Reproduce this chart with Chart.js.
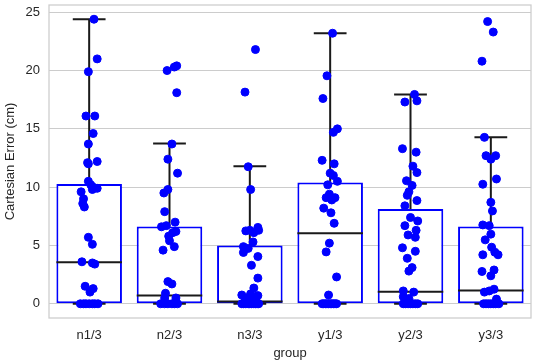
<!DOCTYPE html>
<html>
<head>
<meta charset="utf-8">
<script src="https://cdn.jsdelivr.net/npm/chart.js@4"></script>
<style>
  body { margin: 0; background: #fff; }
  canvas { display: block; }
</style>
</head>
<body>
<canvas id="boxChart" width="536" height="364"></canvas>
<script>
const categories = ["n1/3", "n2/3", "n3/3", "y1/3", "y2/3", "y3/3"];
const yTicks = [0, 5, 10, 15, 20, 25];

// box statistics (lower quartile and lower whisker are 0 everywhere)
const boxQ1 = [0, 0, 0, 0, 0, 0];
const boxQ3 = [10.27, 6.62, 5.0, 10.39, 8.13, 6.62];
const boxMedian = [3.57, 0.71, 0.2, 6.05, 1.03, 1.14];
const whiskerLow = [0, 0, 0, 0, 0, 0];
const whiskerHigh = [24.4, 13.75, 11.8, 23.2, 17.95, 14.27];

// individual observations per group, with the strip jitter (in category widths)
const n13Values = [24.4, 21.0, 19.9, 16.1, 16.1, 14.6, 13.7, 12.1, 12.2, 12.0, 10.5, 10.0, 9.9, 9.8, 9.9, 10.2, 9.6, 9.0, 8.6, 8.3, 5.7, 5.1, 3.6, 3.5, 3.4, 1.5, 1.3, 1.0, 0, 0, 0, 0, 0, 0, 0];
const n13Jitter = [0.06, 0.10, -0.01, -0.04, 0.07, 0.05, -0.01, -0.02, 0.10, -0.01, -0.01, 0.05, 0.05, 0.04, 0.10, 0.02, -0.10, -0.07, -0.08, -0.06, -0.01, 0.04, -0.09, 0.04, 0.07, -0.05, 0.05, 0.01, -0.11, -0.07, -0.04, 0, 0.04, 0.07, 0.11];

const n23Values = [20.0, 20.3, 20.4, 18.1, 13.7, 12.4, 11.2, 9.8, 9.5, 7.9, 7.0, 6.6, 6.7, 6.2, 6.1, 5.8, 5.4, 4.9, 4.6, 1.9, 1.7, 0.9, 0.5, 0.5, 0, 0, 0, 0, 0, 0];
const n23Jitter = [-0.03, 0.06, 0.09, 0.09, 0.03, -0.02, 0.10, -0.02, -0.07, -0.06, 0.07, -0.10, -0.04, 0.08, 0.04, -0.01, 0, 0.06, -0.08, -0.02, 0.03, -0.05, -0.06, 0.08, -0.11, -0.06, -0.02, 0.03, 0.06, 0.10];

const n33Values = [21.8, 18.15, 11.75, 9.8, 6.25, 6.3, 6.1, 6.55, 6.3, 5.3, 4.9, 4.4, 4.75, 4.05, 3.3, 2.2, 1.35, 0.75, 0.85, 0.7, 0.5, 0.3, 0.2, 0.1, 0, 0, 0, 0, 0, 0, 0, 0, 0, 0];
const n33Jitter = [0.07, -0.06, -0.02, 0.01, -0.05, 0, 0.05, 0.10, 0.11, 0.04, -0.08, -0.08, -0.02, 0.10, 0.02, 0.10, 0.05, -0.10, 0.01, 0.10, -0.04, 0.03, 0.08, -0.07, -0.10, -0.08, -0.05, -0.02, 0, 0.02, 0.05, 0.07, 0.09, 0.11];

const y13Values = [23.2, 19.55, 17.6, 15.0, 14.7, 12.3, 12.0, 11.2, 11.0, 10.5, 10.2, 9.4, 9.1, 9.1, 8.9, 8.2, 7.8, 6.9, 5.2, 4.45, 2.3, 0.75, 0, 0, 0, 0, 0, 0, 0, 0, 0, 0];
const y13Jitter = [0.03, -0.04, -0.09, 0.09, 0.04, -0.10, 0.05, 0, 0.04, 0.09, -0.03, -0.01, -0.05, 0.06, 0.02, -0.08, 0.01, 0.05, -0.01, -0.05, 0.08, -0.02, -0.10, -0.08, -0.06, -0.04, -0.02, 0, 0.02, 0.04, 0.06, 0.08];

const y23Values = [17.95, 17.3, 17.4, 13.3, 13.0, 11.8, 11.25, 10.55, 10.15, 9.6, 9.3, 8.4, 8.85, 7.4, 7.1, 6.7, 6.3, 5.9, 5.7, 4.8, 4.5, 3.9, 3.1, 2.8, 1.1, 1.0, 0.6, 0.45, 0, 0, 0, 0, 0, 0, 0];
const y23Jitter = [0.05, -0.07, 0.08, -0.10, 0.07, 0.03, 0.08, -0.05, 0.02, -0.02, -0.04, -0.07, 0.08, 0, 0.09, -0.07, 0.07, -0.03, 0.06, -0.10, 0.06, -0.04, 0.02, -0.02, -0.09, 0.04, -0.09, -0.02, -0.09, -0.06, -0.03, 0, 0.03, 0.06, 0.09];

const y33Values = [24.2, 23.3, 20.8, 14.27, 12.7, 12.4, 12.7, 10.7, 10.25, 8.7, 7.96, 6.76, 6.7, 5.97, 5.48, 4.85, 4.42, 4.2, 4.2, 2.9, 2.77, 2.4, 1.25, 1.1, 1.0, 0.4, 0, 0, 0, 0, 0, 0, 0];
const y33Jitter = [-0.04, 0.03, -0.11, -0.08, -0.06, 0, 0.06, 0.07, -0.10, 0, 0.02, -0.10, -0.02, 0, -0.07, 0.01, 0.05, 0.09, -0.10, 0.04, -0.11, 0, 0.04, -0.02, -0.08, 0.07, -0.09, -0.06, -0.03, 0, 0.03, 0.06, 0.10];

const groupValues = [n13Values, n23Values, n33Values, y13Values, y23Values, y33Values];
const groupJitter = [n13Jitter, n23Jitter, n33Jitter, y13Jitter, y23Jitter, y33Jitter];

const stripPoints = [];
groupValues.forEach((vals, g) => {
  vals.forEach((v, j) => stripPoints.push({ x: g + groupJitter[g][j], y: v }));
});

const textColor = "#262626";
const gridColor = "#cccccc";
const font = { family: "'Liberation Sans', Arial, sans-serif", size: 13 };

// whiskers, caps and medians, drawn on top of the boxes
const boxLines = {
  id: "boxLines",
  afterDatasetDraw(chart, args) {
    if (args.index !== 0) return;
    const ctx = chart.ctx;
    const y = chart.scales.y;
    ctx.save();
    ctx.strokeStyle = "#1a1a1a";
    ctx.lineWidth = 2;
    args.meta.data.forEach((bar, i) => {
      const { x, width } = bar.getProps(["x", "width"], true);
      const half = width / 2;
      const yMed = y.getPixelForValue(boxMedian[i]);
      const yQ3 = y.getPixelForValue(boxQ3[i]);
      const yQ1 = y.getPixelForValue(boxQ1[i]);
      const yHi = y.getPixelForValue(whiskerHigh[i]);
      const yLo = y.getPixelForValue(whiskerLow[i]);
      ctx.beginPath();
      ctx.moveTo(x - half, yMed); ctx.lineTo(x + half, yMed);
      ctx.moveTo(x, yQ3); ctx.lineTo(x, yHi);
      ctx.moveTo(x, yQ1); ctx.lineTo(x, yLo);
      ctx.moveTo(x - half / 2, yHi); ctx.lineTo(x + half / 2, yHi);
      ctx.moveTo(x - half / 2, yLo); ctx.lineTo(x + half / 2, yLo);
      ctx.stroke();
    });
    ctx.restore();
  }
};

const frame = {
  id: "frame",
  beforeDatasetsDraw(chart) {
    const { left, top, width, height } = chart.chartArea;
    const ctx = chart.ctx;
    ctx.save();
    ctx.strokeStyle = gridColor;
    ctx.lineWidth = 1.25;
    ctx.strokeRect(left, top, width, height);
    ctx.restore();
  }
};

new Chart(document.getElementById("boxChart"), {
  type: "bar",
  data: {
    labels: categories,
    datasets: [
      {
        type: "bar",
        data: categories.map((c, i) => [boxQ1[i], boxQ3[i]]),
        backgroundColor: "#ffffff",
        borderColor: "#0000ff",
        borderWidth: 2,
        borderSkipped: false,
        grouped: false,
        categoryPercentage: 0.8,
        barPercentage: 1.02,
        order: 1
      },
      {
        type: "scatter",
        data: stripPoints,
        xAxisID: "xs",
        backgroundColor: "#0000ff",
        borderColor: "#0000ff",
        borderWidth: 1,
        pointRadius: 4,
        order: 0
      }
    ]
  },
  options: {
    responsive: false,
    animation: false,
    layout: { padding: { top: 5, right: 4, left: 0, bottom: 0 } },
    plugins: { legend: { display: false }, tooltip: { enabled: false } },
    scales: {
      x: {
        grid: { display: false, drawTicks: false },
        border: { display: false },
        ticks: { color: textColor, font: font, padding: 10 },
        title: { display: true, text: "group", color: textColor, font: font, padding: { top: 0, bottom: 3 } },
        afterFit(scale) {
          scale.height = 46;
          scale.paddingLeft = 0;
          scale.paddingRight = 0;
        }
      },
      xs: {
        type: "linear",
        min: -0.5,
        max: 5.5,
        offset: false,
        grid: { offset: false },
        display: false
      },
      y: {
        min: -1.22,
        max: 25.62,
        grid: { color: gridColor, lineWidth: 1, drawTicks: false },
        border: { display: false },
        ticks: { color: textColor, font: font, padding: 9 },
        afterBuildTicks(scale) { scale.ticks = yTicks.map(v => ({ value: v })); },
        title: { display: true, text: "Cartesian Error (cm)", color: textColor, font: font, padding: { top: 3, bottom: 0 } },
        afterFit(scale) {
          scale.width = 49;
          scale.paddingTop = 0;
          scale.paddingBottom = 0;
        }
      }
    }
  },
  plugins: [frame, boxLines]
});
</script>
</body>
</html>
